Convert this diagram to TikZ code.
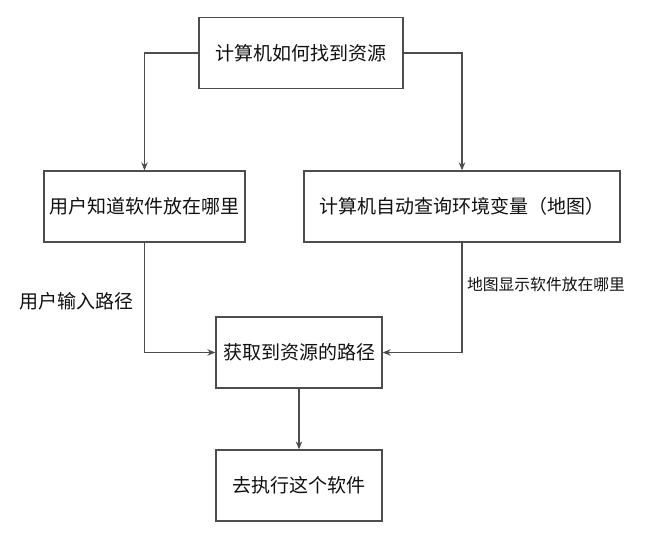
\documentclass[tikz,border=0pt]{standalone}
\usepackage{fontspec}
\usepackage{xcolor}
\usepackage{tikz}
\usetikzlibrary{arrows.meta,positioning}
\newfontfamily\cjk{Noto Sans CJK SC}
\definecolor{boxline}{HTML}{4D4D4D}
\definecolor{boxtext}{HTML}{111111}
\tikzset{
    block/.style={
        rectangle, draw=boxline, line width=1.3pt,
        fill=white, text=boxtext,
        minimum height=71pt, inner sep=0pt,
        font=\cjk\fontsize{19}{21}\selectfont
    },
    arrow/.style={-{Stealth[length=8pt,width=6.5pt]}, line width=1.2pt, color=boxline},
    pathlabel/.style={text=boxtext, inner sep=0pt, font=\cjk\fontsize{19}{21}\selectfont},
    smalllabel/.style={text=boxtext, inner sep=0pt, font=\cjk\fontsize{15.8}{18}\selectfont},
}
\begin{document}
\begin{tikzpicture}[x=1pt, y=-1pt]
    \useasboundingbox (0,0) rectangle (650,544);

    % Nodes
    \node[block, minimum width=204pt] (find) at (301,53) {计算机如何找到资源};

    \node[block, minimum width=201pt] (user) at (144.5,206.5) {用户知道软件放在哪里};

    \node[block, minimum width=316pt] (envvar) at (462,206.5) {计算机自动查询环境变量（地图）};

    \node[block, minimum width=166pt] (path) at (299,352.5) {获取到资源的路径};

    \node[block, minimum width=166pt] (run) at (299,485.5) {去执行这个软件};

    % Arrows
    \draw[arrow] (find.west) -| (user.north);
    \draw[arrow] (find.east) -| (envvar.north);
    \draw[arrow] (user.south) |- (path.west);
    \draw[arrow] (envvar.south) |- (path.east);
    \draw[arrow] (path) -- (run);

    % Path labels
    \node[pathlabel] (typed) at (76,301) {用户输入路径};
    \node[smalllabel] (shown) at (546,284) {地图显示软件放在哪里};

\end{tikzpicture}
\end{document}
